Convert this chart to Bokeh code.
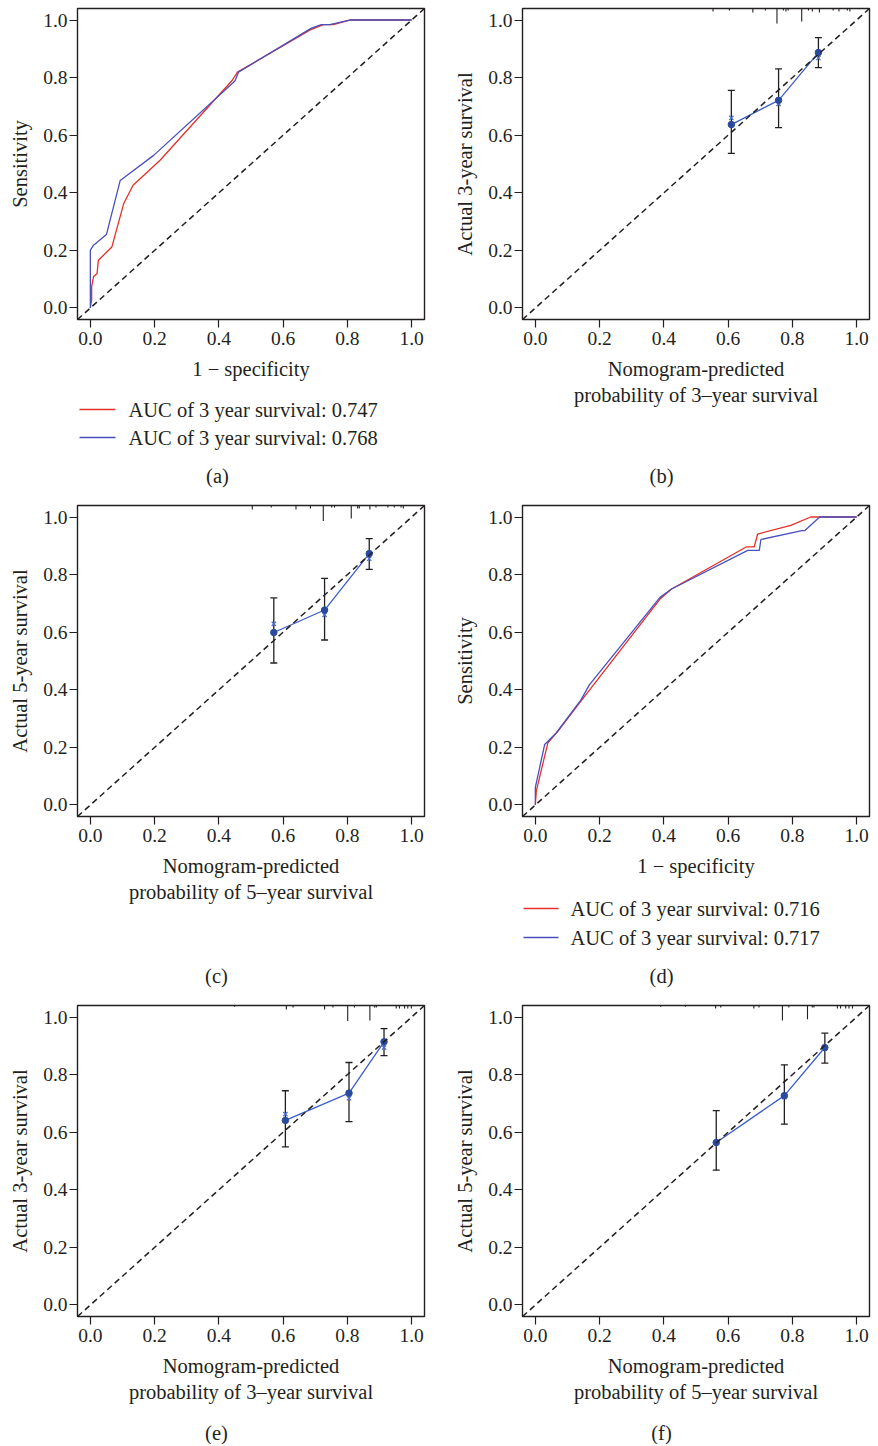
from bokeh.plotting import figure
from bokeh.models import Range1d, FixedTicker, NumeralTickFormatter, Slope, Whisker, TeeHead, ColumnDataSource
from bokeh.layouts import row, column
from bokeh.embed import file_html
from bokeh.resources import INLINE
from bokeh.core.properties import value

# ---------------- data ----------------
ticks = [0.0, 0.2, 0.4, 0.6, 0.8, 1.0]

# (a) ROC, 3-year
a_red_fpr = [0, 0.004, 0.004, 0.010, 0.021, 0.025, 0.067, 0.104, 0.133, 0.217, 0.441, 0.458, 0.600, 0.683, 0.725, 0.756, 0.807, 1.0]
a_red_tpr = [0, 0.028, 0.074, 0.109, 0.120, 0.166, 0.212, 0.363, 0.426, 0.513, 0.790, 0.819, 0.911, 0.965, 0.984, 0.984, 1.0, 1.0]
a_blue_fpr = [0, 0, 0.010, 0.050, 0.093, 0.197, 0.450, 0.461, 0.688, 0.719, 0.745, 0.807, 1.0]
a_blue_tpr = [0, 0.201, 0.218, 0.255, 0.443, 0.530, 0.788, 0.819, 0.972, 0.984, 0.984, 1.0, 1.0]
a_labels = ["AUC of 3 year survival: 0.747", "AUC of 3 year survival: 0.768"]

# (d) ROC
d_red_fpr = [0, 0.003, 0.039, 0.070, 0.137, 0.388, 0.424, 0.656, 0.681, 0.692, 0.795, 0.857, 1.0]
d_red_tpr = [0, 0.049, 0.216, 0.256, 0.354, 0.715, 0.750, 0.896, 0.896, 0.941, 0.971, 1.0, 1.0]
d_blue_fpr = [0, 0, 0.029, 0.065, 0.142, 0.168, 0.388, 0.424, 0.661, 0.697, 0.702, 0.830, 0.839, 0.885, 1.0]
d_blue_tpr = [0, 0.061, 0.210, 0.250, 0.365, 0.417, 0.721, 0.750, 0.884, 0.884, 0.922, 0.953, 0.953, 1.0, 1.0]
d_labels = ["AUC of 3 year survival: 0.716", "AUC of 3 year survival: 0.717"]

# (b) calibration 3-year
b_pred = [0.610, 0.757, 0.881]
b_obs = [0.637, 0.721, 0.887]
b_corr = [0.660, 0.709, 0.868]
b_low = [0.537, 0.626, 0.835]
b_up = [0.756, 0.830, 0.939]
b_rug_x = [0.553, 0.604, 0.677, 0.716, 0.752, 0.772, 0.780, 0.787, 0.829, 0.850, 0.862, 0.884, 0.927, 0.945, 0.971, 0.979]
b_rug_h = [0.010, 0.007, 0.014, 0.007, 0.052, 0.007, 0.010, 0.007, 0.045, 0.007, 0.010, 0.014, 0.007, 0.010, 0.007, 0.010]

# (c) calibration 5-year
c_pred = [0.571, 0.729, 0.868]
c_obs = [0.599, 0.677, 0.873]
c_corr = [0.629, 0.660, 0.855]
c_low = [0.493, 0.573, 0.818]
c_up = [0.719, 0.787, 0.925]
c_rug_x = [0.504, 0.563, 0.640, 0.685, 0.725, 0.751, 0.760, 0.812, 0.832, 0.837, 0.870, 0.889, 0.926, 0.946, 0.967, 0.974]
c_rug_h = [0.014, 0.007, 0.014, 0.010, 0.054, 0.007, 0.007, 0.045, 0.010, 0.010, 0.014, 0.007, 0.007, 0.007, 0.007, 0.010]

# (e) calibration 3-year
e_pred = [0.607, 0.805, 0.914]
e_obs = [0.641, 0.736, 0.914]
e_corr = [0.663, 0.718, 0.894]
e_low = [0.549, 0.637, 0.866]
e_up = [0.744, 0.842, 0.960]
e_rug_x = [0.449, 0.610, 0.631, 0.729, 0.755, 0.801, 0.822, 0.870, 0.885, 0.890, 0.952, 0.962, 0.978, 0.988, 0.999]
e_rug_h = [0.004, 0.014, 0.007, 0.014, 0.007, 0.054, 0.007, 0.052, 0.007, 0.007, 0.010, 0.010, 0.010, 0.010, 0.010]

# (f) calibration 5-year
f_pred = [0.563, 0.775, 0.901]
f_obs = [0.564, 0.727, 0.894]
f_corr = [0.566, 0.722, 0.890]
f_low = [0.468, 0.628, 0.840]
f_up = [0.675, 0.834, 0.944]
f_rug_x = [0.390, 0.467, 0.561, 0.577, 0.680, 0.696, 0.769, 0.789, 0.847, 0.862, 0.867, 0.940, 0.950, 0.966, 0.976, 0.987]
f_rug_h = [0.004, 0.004, 0.010, 0.007, 0.010, 0.007, 0.052, 0.007, 0.048, 0.007, 0.007, 0.010, 0.010, 0.010, 0.010, 0.010]

# ---------------- style ----------------
FONT = "Liberation Serif"
INK = "#231F20"
RED = "#E5302A"
BLUE = "#4A4FBE"
CAL_LINE = "#3B5FC8"
DOT = "#2A4A9E"
XMARK = "#4A6ED0"
TXT = "20.5px"

FRAME_W, FRAME_H = 347, 311
LEFT_W, RIGHT_W = 440, 436
LEFT_L, RIGHT_L = 77, 82
ROC_B, CAL_B = 65, 90
ROW_H = [504, 500, 440]
ROW_TOP = [8, 1, 1]


def base_fig(col_w, left, top, bottom, xlabel, ylabel):
    p = figure(width=col_w, height=top + FRAME_H + bottom,
               x_range=Range1d(-0.04, 1.04), y_range=Range1d(-0.04, 1.04),
               min_border_left=left, min_border_right=col_w - left - FRAME_W,
               min_border_top=top, min_border_bottom=bottom,
               toolbar_location=None, output_backend="svg")
    p.grid.visible = False
    p.outline_line_color = INK
    p.outline_line_width = 1.4
    p.outline_line_alpha = 1.0
    for ax in (p.xaxis[0], p.yaxis[0]):
        ax.ticker = FixedTicker(ticks=ticks)
        ax.formatter = NumeralTickFormatter(format="0.0")
        ax.axis_line_color = None
        ax.major_tick_in = 0
        ax.major_tick_out = 8
        ax.major_tick_line_color = INK
        ax.major_tick_line_width = 1.2
        ax.minor_tick_line_color = None
        ax.major_label_text_font = FONT
        ax.major_label_text_font_size = "19.5px"
        ax.major_label_text_color = INK
        ax.axis_label_text_font = FONT
        ax.axis_label_text_font_size = TXT
        ax.axis_label_text_font_style = "normal"
        ax.axis_label_text_color = INK
        ax.axis_label_text_line_height = 1.2
    p.xaxis.major_label_standoff = 4
    p.yaxis.major_label_standoff = 2
    p.xaxis.axis_label = xlabel
    p.yaxis.axis_label = ylabel
    p.xaxis.axis_label_standoff = 10
    p.yaxis.axis_label_standoff = 9
    p.add_layout(Slope(gradient=1, y_intercept=0, line_color=INK, line_width=1.5, line_dash="6 4"))
    return p


def roc_fig(col_w, left, top, red_x, red_y, blue_x, blue_y):
    p = base_fig(col_w, left, top, ROC_B, "1 \u2212 specificity", "Sensitivity")
    p.line(red_x, red_y, line_color=RED, line_width=1.3)
    p.line(blue_x, blue_y, line_color=BLUE, line_width=1.3)
    return p


def cal_fig(col_w, left, top, years, pred, obs, corr, low, up, rug_x, rug_h):
    p = base_fig(col_w, left, top, CAL_B,
                 "Nomogram-predicted\nprobability of %d\u2013year survival" % years,
                 "Actual %d-year survival" % years)
    ytop = p.y_range.end
    p.segment(x0=rug_x, y0=[ytop] * len(rug_x), x1=rug_x, y1=[ytop - h for h in rug_h],
              line_color=INK, line_width=1.1)
    src = ColumnDataSource(dict(base=pred, upper=up, lower=low))
    p.add_layout(Whisker(source=src, base="base", upper="upper", lower="lower",
                         line_color=INK, line_width=1.3,
                         upper_head=TeeHead(size=7, line_color=INK, line_width=1.3),
                         lower_head=TeeHead(size=7, line_color=INK, line_width=1.3)))
    p.line(pred, obs, line_color=CAL_LINE, line_width=1.3)
    p.scatter(pred, corr, marker="x", size=6, line_color=XMARK, line_width=1.3)
    p.scatter(pred, obs, marker="circle", size=6.5, fill_color=DOT, line_color=DOT)
    return p


def cap_fig(col_w, left, h, caption, cx, cy, legend=None):
    # caption strip: x data = pixel position within the column, y data = pixel from top
    c = figure(width=col_w, height=h, x_range=Range1d(left, left + FRAME_W), y_range=Range1d(h, 0),
               min_border_left=left, min_border_right=col_w - left - FRAME_W,
               min_border_top=0, min_border_bottom=0,
               toolbar_location=None, output_backend="svg",
               x_axis_type=None, y_axis_type=None, outline_line_color=None)
    c.grid.visible = False
    if legend is not None:
        lx0, lx1, tx, ys, labels = legend
        c.segment(x0=[lx0] * 2, y0=ys, x1=[lx1] * 2, y1=ys, line_color=[RED, BLUE], line_width=1.3)
        c.text(x=[tx] * 2, y=ys, text=labels, text_font=value(FONT), text_font_size=TXT,
               text_color=INK, text_align="left", text_baseline="middle")
    c.text(x=[cx], y=[cy], text=[caption], text_font=value(FONT), text_font_size=TXT,
           text_color=INK, text_align="center", text_baseline="middle")
    return c


def cap_h(r, bottom):
    return ROW_H[r] - ROW_TOP[r] - FRAME_H - bottom


pa = roc_fig(LEFT_W, LEFT_L, ROW_TOP[0], a_red_fpr, a_red_tpr, a_blue_fpr, a_blue_tpr)
ca = cap_fig(LEFT_W, LEFT_L, cap_h(0, ROC_B), "(a)", 217, 91,
             legend=(79, 115, 128, [25, 53], a_labels))
pb = cal_fig(RIGHT_W, RIGHT_L, ROW_TOP[0], 3, b_pred, b_obs, b_corr, b_low, b_up, b_rug_x, b_rug_h)
cb = cap_fig(RIGHT_W, RIGHT_L, cap_h(0, CAL_B), "(b)", 221, 66)

pc = cal_fig(LEFT_W, LEFT_L, ROW_TOP[1], 5, c_pred, c_obs, c_corr, c_low, c_up, c_rug_x, c_rug_h)
cc = cap_fig(LEFT_W, LEFT_L, cap_h(1, CAL_B), "(c)", 216, 69)
pd_ = roc_fig(RIGHT_W, RIGHT_L, ROW_TOP[1], d_red_fpr, d_red_tpr, d_blue_fpr, d_blue_tpr)
cd = cap_fig(RIGHT_W, RIGHT_L, cap_h(1, ROC_B), "(d)", 221, 94,
             legend=(83, 118, 130, [27, 56], d_labels))

pe = cal_fig(LEFT_W, LEFT_L, ROW_TOP[2], 3, e_pred, e_obs, e_corr, e_low, e_up, e_rug_x, e_rug_h)
ce = cap_fig(LEFT_W, LEFT_L, cap_h(2, CAL_B), "(e)", 216, 26)
pf = cal_fig(RIGHT_W, RIGHT_L, ROW_TOP[2], 5, f_pred, f_obs, f_corr, f_low, f_up, f_rug_x, f_rug_h)
cf = cap_fig(RIGHT_W, RIGHT_L, cap_h(2, CAL_B), "(f)", 221, 26)

layout = column(
    row(column(pa, ca), column(pb, cb)),
    row(column(pc, cc), column(pd_, cd)),
    row(column(pe, ce), column(pf, cf)),
)

open("out.html", "w").write(file_html(layout, INLINE))
